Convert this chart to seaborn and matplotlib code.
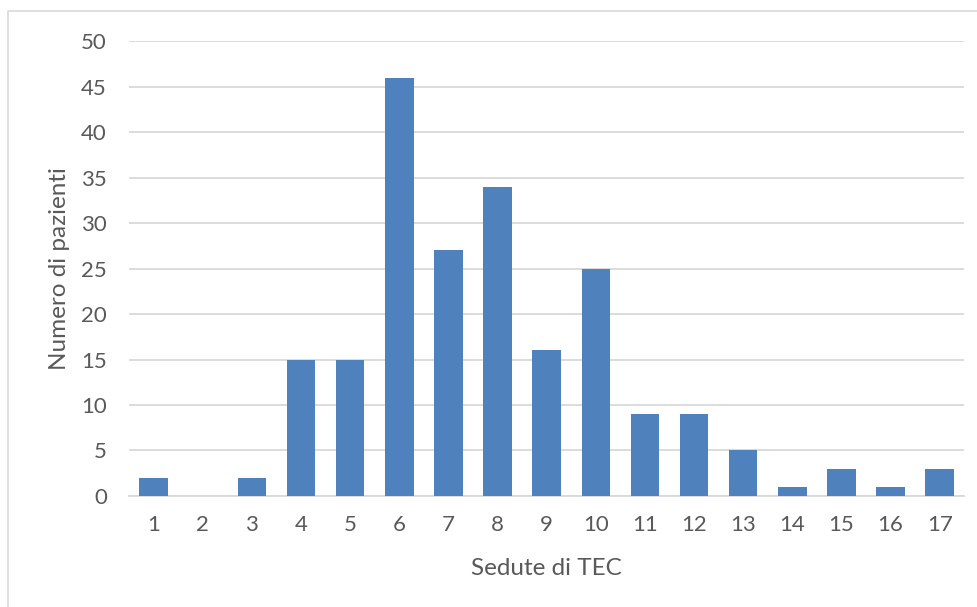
import numpy as np
import pandas as pd
import seaborn as sns
from matplotlib import pyplot as plt
from matplotlib.patches import Rectangle

# data
sedute = [str(i) for i in range(1, 18)]
pazienti = [2, 0, 2, 15, 15, 46, 27, 34, 16, 25, 9, 9, 5, 1, 3, 1, 3]
y_ticks = [0, 5, 10, 15, 20, 25, 30, 35, 40, 45, 50]

text_col = "#595959"
grid_col = "#D9D9D9"
bar_col = "#4F81BD"

sns.set_theme(style="white")
plt.rcParams['font.family'] = ['Lato', 'DejaVu Sans']

df = pd.DataFrame({'Sedute di TEC': sedute, 'Numero di pazienti': pazienti})

fig = plt.figure(figsize=(9.78, 6.07), dpi=100)
ax = fig.add_axes([0.132, 0.183, 0.854, 0.749])

sns.barplot(df, x='Sedute di TEC', y='Numero di pazienti', color=bar_col,
            width=0.58, saturation=1, linewidth=0, ax=ax, zorder=3)

ax.set_ylim(0, 50)
ax.set_xlim(-0.5, 16.5)
ax.set_yticks(y_ticks)
ax.yaxis.grid(True, color=grid_col, linewidth=1.3, zorder=0)
ax.set_axisbelow(True)
for side in ['top', 'right', 'left']:
    ax.spines[side].set_visible(False)
ax.spines['bottom'].set_color(grid_col)
ax.spines['bottom'].set_linewidth(1.3)
ax.tick_params(axis='both', length=0, labelsize=16, labelcolor=text_col)
ax.tick_params(axis='y', pad=16)
ax.tick_params(axis='x', pad=14)

ax.set_xlabel('Sedute di TEC', fontsize=17.5, color=text_col, labelpad=16)
ax.set_ylabel('Numero di pazienti', fontsize=17.5, color=text_col, labelpad=8)

# outer chart border (as in the original spreadsheet chart)
fig.patches.append(Rectangle((0.008, -0.1), 1.2, 1.082, transform=fig.transFigure,
                             fill=False, edgecolor=grid_col, linewidth=1.2))

fig.savefig('out.png', dpi=100)
